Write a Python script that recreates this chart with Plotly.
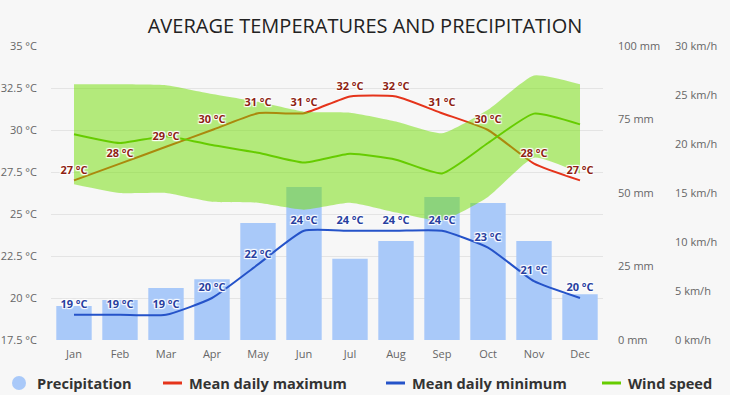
import plotly.graph_objects as go

months = ["Jan", "Feb", "Mar", "Apr", "May", "Jun", "Jul", "Aug", "Sep", "Oct", "Nov", "Dec"]
precip_mm = [11.6, 13.6, 17.7, 20.7, 39.8, 52.0, 27.6, 33.7, 48.6, 46.6, 33.7, 15.6]
temp_max = [27, 28, 29, 30, 31, 31, 32, 32, 31, 30, 28, 27]
temp_min = [19, 19, 19, 20, 22, 24, 24, 24, 24, 23, 21, 20]
wind_mean = [21.0, 20.1, 20.8, 19.9, 19.1, 18.1, 19.0, 18.4, 17.0, 20.1, 23.1, 22.0]
wind_high = [26.1, 26.1, 26.0, 25.1, 24.3, 23.3, 23.2, 22.3, 21.1, 23.5, 27.0, 26.1]
wind_low = [15.9, 15.0, 15.0, 14.1, 14.0, 13.3, 14.0, 13.0, 12.2, 14.6, 18.6, 17.0]

temp_ticks = [17.5, 20, 22.5, 25, 27.5, 30, 32.5, 35]
temp_ticktext = ["17.5 °C", "20 °C", "22.5 °C", "25 °C", "27.5 °C", "30 °C", "32.5 °C", "35 °C"]
mm_ticks = [0, 25, 50, 75, 100]
mm_ticktext = ["0 mm", "25 mm", "50 mm", "75 mm", "100 mm"]
kmh_ticks = [0, 5, 10, 15, 20, 25, 30]
kmh_ticktext = ["0 km/h", "5 km/h", "10 km/h", "15 km/h", "20 km/h", "25 km/h", "30 km/h"]

FONT = "Open Sans"
BG = "#f7f7f7"
BAR = "#a9c9f9"
RED = "#e5341b"
BLUE = "#2553c9"
GREEN = "#66cc00"
BAND = "rgba(112,222,0,0.5)"
WHITE_HALO = "1px 1px 1px #fff, -1px -1px 1px #fff, 1px -1px 1px #fff, -1px 1px 1px #fff, 0 0 2px #fff"
SMOOTH = 0.5

fig = go.Figure()

# precipitation bars (base axis, mm)
fig.add_trace(go.Bar(x=months, y=precip_mm, yaxis="y", marker=dict(color=BAR, line=dict(width=0)),
                     width=0.77, showlegend=False, hoverinfo="skip"))

# temperature lines
fig.add_trace(go.Scatter(x=months, y=temp_max, yaxis="y2", mode="lines",
                         line=dict(color=RED, width=2, shape="spline", smoothing=SMOOTH),
                         showlegend=False, hoverinfo="skip"))
fig.add_trace(go.Scatter(x=months, y=temp_min, yaxis="y2", mode="lines",
                         line=dict(color=BLUE, width=2, shape="spline", smoothing=SMOOTH),
                         showlegend=False, hoverinfo="skip"))

# wind band and mean
fig.add_trace(go.Scatter(x=months, y=wind_low, yaxis="y3", mode="lines",
                         line=dict(width=0, shape="spline", smoothing=SMOOTH, color=BAND),
                         showlegend=False, hoverinfo="skip"))
fig.add_trace(go.Scatter(x=months, y=wind_high, yaxis="y3", mode="lines", fill="tonexty",
                         fillcolor=BAND, line=dict(width=0, shape="spline", smoothing=SMOOTH, color=BAND),
                         showlegend=False, hoverinfo="skip"))
fig.add_trace(go.Scatter(x=months, y=wind_mean, yaxis="y3", mode="lines",
                         line=dict(color=GREEN, width=2, shape="spline", smoothing=SMOOTH),
                         showlegend=False, hoverinfo="skip"))

# data labels on top
INVIS = dict(size=5, color="rgba(0,0,0,0)", line=dict(width=0))
fig.add_trace(go.Scatter(x=months, y=temp_max, yaxis="y4", mode="markers+text", marker=INVIS,
                         text=[f"{v} °C" for v in temp_max], textposition="top center",
                         textfont=dict(family=FONT, size=11, color="#8e1f14", weight="bold", shadow=WHITE_HALO),
                         showlegend=False, hoverinfo="skip"))
fig.add_trace(go.Scatter(x=months, y=temp_min, yaxis="y4", mode="markers+text", marker=INVIS,
                         text=[f"{v} °C" for v in temp_min], textposition="top center",
                         textfont=dict(family=FONT, size=11, color="#27409f", weight="bold", shadow=WHITE_HALO),
                         showlegend=False, hoverinfo="skip"))

tickfont = dict(family=FONT, size=11, color="#666666")

fig.update_layout(
    width=730, height=395,
    margin=dict(l=51, r=127, t=46, b=55, autoexpand=False),
    paper_bgcolor=BG, plot_bgcolor=BG,
    title=dict(text="AVERAGE TEMPERATURES AND PRECIPITATION", x=0.5, xref="container", xanchor="center",
               y=1 - 26 / 395, yref="container", yanchor="middle",
               font=dict(family=FONT, size=20, color="#222222")),
    xaxis=dict(type="category", range=[-0.5, 11.5], showgrid=False, zeroline=False, showline=False,
               ticks="", tickfont=tickfont, ticklabelstandoff=6),
    yaxis=dict(side="right", range=[0, 100], tickvals=mm_ticks, ticktext=mm_ticktext,
               showgrid=False, zeroline=False, showline=False, ticks="", tickfont=tickfont,
               ticklabelstandoff=14, fixedrange=True),
    yaxis2=dict(overlaying="y", side="left", range=[17.5, 35], tickvals=temp_ticks, ticktext=temp_ticktext,
                showgrid=True, gridcolor="#e4e4e4", gridwidth=1, zeroline=False, showline=False, ticks="",
                tickfont=tickfont, ticklabelstandoff=13),
    yaxis3=dict(overlaying="y", side="right", anchor="free", position=1, range=[0, 30],
                tickvals=kmh_ticks, ticktext=kmh_ticktext, showgrid=False, zeroline=False, showline=False,
                ticks="", tickfont=tickfont, ticklabelstandoff=71),
    yaxis4=dict(overlaying="y", range=[17.5, 35], visible=False),
)

# custom legend
def px_x(px):
    return (px - 51) / 552

LEG_Y = (340 - 383) / 294
legfont = dict(family=FONT, size=14.6, color="#333333", weight="bold")

fig.add_shape(type="circle", xref="paper", yref="paper", xsizemode="pixel", ysizemode="pixel",
              xanchor=px_x(19), yanchor=LEG_Y, x0=-7, x1=7, y0=-7, y1=7,
              fillcolor=BAR, line=dict(width=0))
legend_items = [
    (None, 35, "Precipitation"),
    (RED, 163, "Mean daily maximum"),
    (BLUE, 386, "Mean daily minimum"),
    (GREEN, 602, "Wind speed"),
]
for color, x0, label in legend_items:
    if color is None:
        tx = x0
    else:
        fig.add_shape(type="line", xref="paper", yref="paper", x0=px_x(x0), x1=px_x(x0 + 19),
                      y0=LEG_Y, y1=LEG_Y, line=dict(color=color, width=3))
        tx = x0 + 24
    fig.add_annotation(text=label, xref="paper", yref="paper", x=px_x(tx), y=LEG_Y,
                       xanchor="left", yanchor="middle", showarrow=False, font=legfont)

fig.write_html("out.html", config={"displayModeBar": False},
               post_script="document.body.style.margin='0';document.body.style.overflow='hidden';")
